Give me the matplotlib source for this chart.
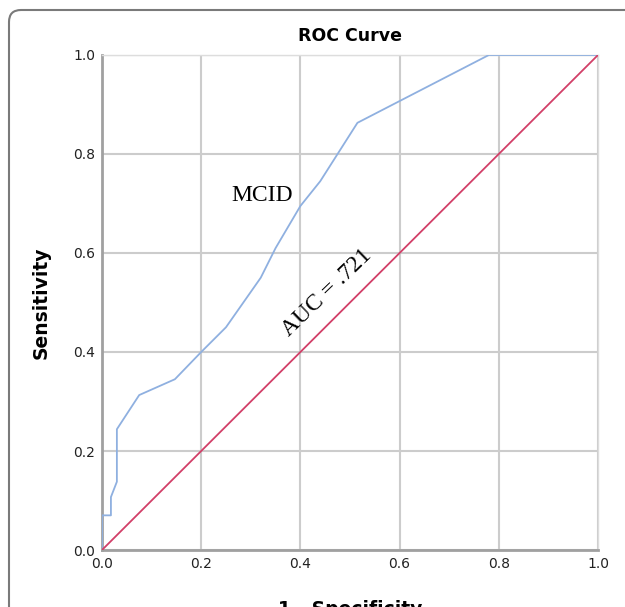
import matplotlib.pyplot as plt
from matplotlib.patches import FancyBboxPatch
from matplotlib.transforms import IdentityTransform

# ROC curve points
fpr = [0.0, 0.0, 0.018, 0.018, 0.030, 0.030, 0.075, 0.147, 0.200, 0.250,
       0.320, 0.350, 0.400, 0.440, 0.515, 0.780, 1.0]
tpr = [0.0, 0.070, 0.070, 0.107, 0.138, 0.244, 0.313, 0.345, 0.400, 0.450,
       0.550, 0.610, 0.695, 0.745, 0.863, 1.0, 1.0]
ref_line = [0.0, 1.0]
ticks = [0.0, 0.2, 0.4, 0.6, 0.8, 1.0]
tick_labels = ['0.0', '0.2', '0.4', '0.6', '0.8', '1.0']

fig = plt.figure(figsize=(6.25, 6.07), dpi=100)
ax = fig.add_axes([0.1632, 0.0939, 0.7936, 0.8155])

# Rounded frame around the whole figure, in pixels (runs off right and bottom)
frame = FancyBboxPatch((9, -60), 700, 607 - 10 + 60,
                       boxstyle='round,pad=0,rounding_size=12',
                       transform=IdentityTransform(), fill=False,
                       edgecolor='#7a7a7a', linewidth=1.5, zorder=0)
fig.patches.append(frame)

ax.plot(fpr, tpr, color='#8fb0e0', linewidth=1.3, zorder=3)
ax.plot(ref_line, ref_line, color='#d23f68', linewidth=1.3, zorder=3)

ax.set_xlim(0, 1)
ax.set_ylim(0, 1)
ax.set_xticks(ticks)
ax.set_yticks(ticks)
ax.set_xticklabels(tick_labels)
ax.set_yticklabels(tick_labels)
ax.tick_params(length=0, labelsize=10, pad=5, colors='#222222')
ax.grid(True, color='#cccccc', linewidth=1.5, zorder=1)
ax.set_axisbelow(True)

for side in ['top', 'right']:
    ax.spines[side].set_color('#dddddd')
    ax.spines[side].set_linewidth(1.0)
for side in ['left', 'bottom']:
    ax.spines[side].set_color('#a0a0a0')
    ax.spines[side].set_linewidth(2.0)

ax.set_title('ROC Curve', fontsize=12.5, fontweight='bold', pad=10)
ax.set_xlabel('1 - Specificity', fontsize=13.5, fontweight='bold', labelpad=21)
ax.set_ylabel('Sensitivity', fontsize=13.5, fontweight='bold', labelpad=16)

ax.text(0.323, 0.717, 'MCID', family='Liberation Serif', fontsize=17,
        ha='center', va='center')
ax.text(0.454, 0.519, 'AUC = .721', family='Liberation Serif', fontsize=17,
        ha='center', va='center', rotation=44, rotation_mode='anchor')

fig.savefig('out.png', dpi=100)
